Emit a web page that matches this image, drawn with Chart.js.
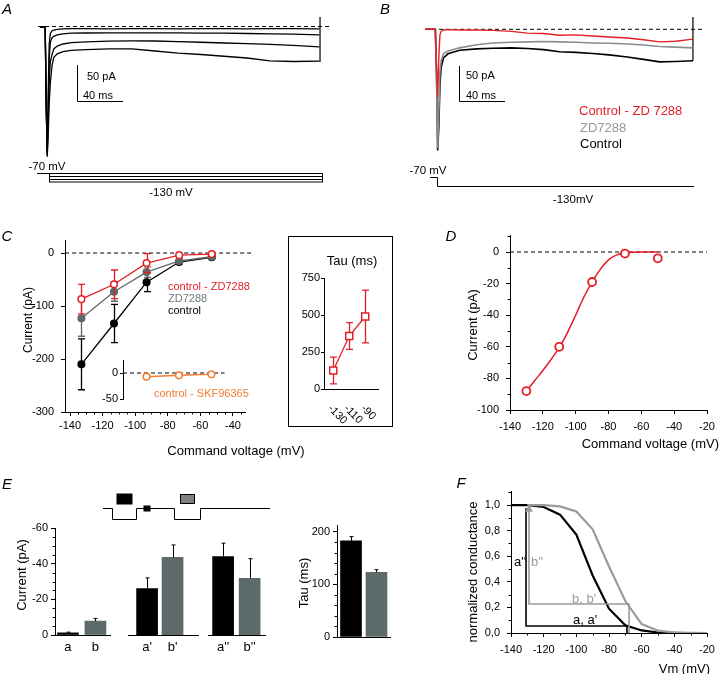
<!DOCTYPE html>
<html><head><meta charset="utf-8">
<script src="https://cdn.jsdelivr.net/npm/chart.js@4.4.1/dist/chart.umd.min.js"></script>
<style>
body{margin:0;background:#fff;}
#fig{position:relative;width:720px;height:674px;overflow:hidden;font-family:"Liberation Sans",Arial,sans-serif;}
#fig canvas{position:absolute;}
</style></head><body><div id="fig"></div>
<script>
// ---- A: current traces (time ms, current pA)
const tA = [0, 4.5, 5.5, 6.3, 7.2, 8, 9, 10.5, 12, 15, 20, 27, 40, 60, 80, 100, 120, 140, 160, 180, 200, 220, 243];
const a1 = [-1, -1, -120, -178, -90, -25, -10, -6, -5, -4, -3.5, -3, -3, -3.5, -3, -3, -3.5, -3, -3, -3.5, -3, -3, -3.5];
const a2 = [-1, -1, -120, -182, -110, -45, -22, -16, -14, -12, -10.5, -9.5, -9.3, -9, -9, -9, -9, -9.5, -9.5, -10, -10.5, -11, -12];
const a3 = [-1, -1, -120, -184, -130, -75, -50, -40, -32, -28, -25, -23, -22, -21, -20.5, -20.7, -21.5, -22.5, -23.6, -24.5, -25.5, -27, -29];
const a4 = [-1, -1, -120, -186, -150, -110, -80, -55, -44, -39, -36, -34, -33, -32, -32, -35, -38, -40, -42.5, -45, -49, -50, -49.5];

// ---- B: control, ZD7288 and difference traces
const tB = [0, 9, 10, 11, 12, 13, 14, 16, 20, 30, 45, 59, 75, 89, 103, 117, 131, 146, 160, 176, 190, 204, 218, 233];
const bDiff = [0, 0, -60, -97, -40, -8, -3, -1, -0.5, -1, -1, -1.5, -3, -5.5, -6, -8.5, -8, -9.5, -11, -12.5, -15, -18, -17, -14];
const bZD = [0, 0, -60, -170, -120, -60, -45, -35, -31, -26.5, -22, -19.5, -18.5, -18, -17.5, -18, -18.5, -19.5, -20, -21, -22.5, -24.5, -25.5, -26.5];
const bCtrl = [0, 0, -60, -173, -140, -80, -55, -41, -35, -30, -28, -27, -26.5, -27.5, -29, -32, -33, -34.5, -36.5, -39.5, -43, -46.5, -46, -45];

// ---- C: I-V
const vC = [-133, -113, -93, -73, -53];
const cCtrl = [-210, -133, -55, -17, -8];
const cCtrlErr = [48, 36, 18, 3, 2];
const cZD = [-123, -73, -36, -15, -7];
const cZDErr = [34, 18, 10, 3, 2];
const cDiff = [-87, -59, -19, -4, -2];
const cDiffErr = [28, 27, 18, 3, 2];
const vSKF = [-93, -73, -53];
const cSKF = [-7, -4.5, -2.5];
const vTau = [-130, -110, -90];
const tauC = [125, 358, 490];
const tauCErr = [90, 90, 178];

// ---- D: difference current and fit
const vD = [-130, -110, -90, -70, -50];
const dPts = [-88, -60, -19, -1, -4];
const fitV = [-130, -125, -120, -115, -110, -105, -100, -95, -90, -85, -80, -75, -70, -65, -60, -55, -50];
const fitI = [-88, -81.5, -75, -68, -60.5, -51, -40, -28.5, -19, -11, -5, -1.8, -0.5, -0.1, 0, 0, 0];

// ---- E: bars
const eLab1 = ['a', 'b'], e1 = [-1.2, -7.8], e1Err = [0.4, 1.5];
const eLab2 = ["a'", "b'"], e2 = [-26, -43.5], e2Err = [6, 7];
const eLab3 = ["a''", "b''"], e3 = [-44, -31.8], e3Err = [7.5, 11];
const eTau = [183, 123], eTauErr = [8, 5];

// ---- F: conductance curves
const fV = [-140, -130, -120, -110, -100, -90, -80, -70, -60, -50, -40, -30, -20];
const fCtrl = [1.0, 1.0, 0.985, 0.925, 0.77, 0.45, 0.19, 0.06, 0.02, 0.004, 0.001, 0, 0];
const fZD = [null, 1.0, 1.0, 0.99, 0.95, 0.81, 0.52, 0.25, 0.07, 0.018, 0.004, 0.001, 0];
const fMarkA_x = [-130.8, -130.8, -69, -69], fMarkA_y = [0.975, 0.055, 0.055, 0];
const fMarkB_x = [-129, -129, -67.7, -67.7], fMarkB_y = [0.965, 0.227, 0.227, 0];

const RED = '#e41e26', ORANGE = '#f07c32', GREYC = '#5e6a6a', GREYBAR = '#5c6a69', GREYB = '#8c8c8c', GREYF = '#9a9a9a';
const FONT = '"Liberation Sans", Arial, sans-serif';
Chart.defaults.font.family = FONT;
Chart.defaults.color = '#000';

const fig = document.getElementById('fig');
const pts = (xs, ys) => xs.map((x, i) => ({x, y: ys[i]}));

// small ticks between the labelled ones
Chart.register({
  id: 'minor',
  afterDraw(chart, args, opts) {
    const ctx = chart.ctx;
    ['x', 'y'].forEach(id => {
      const step = opts && opts[id], s = chart.scales[id];
      if (!step || !s) return;
      const major = s.options.ticks.stepSize;
      ctx.save(); ctx.strokeStyle = '#000'; ctx.lineWidth = 1; ctx.beginPath();
      const lo = Math.min(s.min, s.max), hi = Math.max(s.min, s.max);
      for (let k = Math.ceil(lo / step - 1e-6); k * step <= hi + 1e-9; k++) {
        const v = k * step, r = v / major;
        if (Math.abs(r - Math.round(r)) < 1e-6) continue;
        const p = Math.round(s.getPixelForValue(v)) + 0.5;
        if (s.isHorizontal()) { ctx.moveTo(p, s.top); ctx.lineTo(p, s.top + 2.5); }
        else { ctx.moveTo(s.right - 2.5, p); ctx.lineTo(s.right, p); }
      }
      ctx.stroke(); ctx.restore();
    });
  }
});

// error bars
function drawErr(chart, i) {
  const ds = chart.data.datasets[i], meta = chart.getDatasetMeta(i), ys = chart.scales[meta.yAxisID], ctx = chart.ctx;
  const cap = ds.capW ?? 3.5;
  ctx.save();
  ctx.strokeStyle = ds.errColor || ds.borderColor;
  ctx.lineWidth = ds.errWidth || 1.3;
  ctx.beginPath();
  meta.data.forEach((el, k) => {
    const e = ds.errors[k]; if (!e) return;
    const v = ds.data[k].y;
    const lo = ds.errOne ? v : v - e;
    const hi = ds.errOne ? v + (v < 0 ? -e : e) : v + e;
    const x = Math.round(el.x) + 0.5, p1 = ys.getPixelForValue(lo), p2 = ys.getPixelForValue(hi);
    ctx.moveTo(x, p1); ctx.lineTo(x, p2);
    if (cap) {
      ctx.moveTo(x - cap, p2); ctx.lineTo(x + cap, p2);
      if (!ds.errOne) { ctx.moveTo(x - cap, p1); ctx.lineTo(x + cap, p1); }
    }
  });
  ctx.stroke(); ctx.restore();
}
Chart.register({
  id: 'errbars',
  beforeDatasetDraw(chart, args) { const ds = chart.data.datasets[args.index]; if (ds.errors && !ds.errOne) drawErr(chart, args.index); },
  afterDatasetDraw(chart, args) { const ds = chart.data.datasets[args.index]; if (ds.errors && ds.errOne) drawErr(chart, args.index); }
});

function ax(min, max, step, o = {}) {
  return {
    type: 'linear', min, max, reverse: !!o.reverse, offset: false,
    display: o.display !== false,
    afterBuildTicks: o.at ? (s => { s.ticks = o.at.map(v => ({value: v})); }) : undefined,
    grid: {display: !o.noTicks, drawOnChartArea: false, drawTicks: !o.noTicks, tickLength: o.tl || 4, color: '#000', offset: false},
    border: {display: true, color: '#000', width: 1},
    ticks: {stepSize: step, includeBounds: false, autoSkip: false, maxRotation: 0, minRotation: 0, padding: o.pad ?? 3,
      display: o.labels !== false, color: '#000', font: {size: o.size || 11},
      callback: o.cb || (v => String(+v.toFixed(2)))}
  };
}

// area = chart area in page px [l, t, r, b]; m = margins round it [l, t, r, b]
function place(area, m, cfg) {
  const cv = document.createElement('canvas');
  const w = area[2] - area[0] + m[0] + m[2], h = area[3] - area[1] + m[1] + m[3];
  cv.width = w; cv.height = h;
  cv.style.cssText = `left:${area[0] - m[0]}px;top:${area[1] - m[1]}px;width:${w}px;height:${h}px`;
  fig.appendChild(cv);
  const sx = cfg.options.scales.x, sy = cfg.options.scales.y;
  const pad = {left: 0, top: m[1], right: m[2], bottom: 0};
  if (sy.display === false) pad.left = m[0]; else sy.afterFit = s => { s.width = m[0]; };
  if (sx.display === false) pad.bottom = m[3]; else sx.afterFit = s => { s.height = m[3]; };
  cfg.options.layout = {padding: pad};
  cfg.options.responsive = false;
  cfg.options.animation = false;
  cfg.options.devicePixelRatio = 1;
  cfg.options.plugins = Object.assign({legend: {display: false}, tooltip: {enabled: false}}, cfg.options.plugins || {});
  return new Chart(cv, cfg);
}

const line = (data, color, width, extra = {}) => Object.assign({data, borderColor: color, backgroundColor: color, borderWidth: width, pointRadius: 0, tension: 0}, extra);
const dash = (data) => ({data, borderColor: '#000', borderWidth: 1, borderDash: [4, 3], pointRadius: 0, clip: false});

// ---- A
place([34, 8, 334, 165], [0, 0, 0, 0], {
  type: 'line',
  data: {datasets: [
    line(pts(tA, a1), '#000', 1.3), line(pts(tA, a2), '#000', 1.3),
    line(pts(tA, a3), '#000', 1.3), line(pts(tA, a4), '#000', 1.3),
    line(pts([243.5, 243.5], [13.6, -50.7]), '#000', 1.2),
    dash(pts([-1.7, 252], [0, 0]))
  ]},
  options: {scales: {x: {type: 'linear', display: false, min: -5.22, max: 255.65}, y: {type: 'linear', display: false, min: -197.86, max: 26.43}}}
});

// ---- B
place([419, 8, 706, 165], [0, 0, 0, 0], {
  type: 'line',
  data: {datasets: [
    line(pts(tB, bDiff), RED, 1.4),
    line(pts(tB, bZD), GREYB, 1.6),
    line(pts(tB, bCtrl), '#000', 1.6),
    line(pts([233, 233], [17.6, -45]), '#000', 1.2),
    dash(pts([0, 241.7], [0, 0]))
  ]},
  options: {scales: {x: {type: 'linear', display: false, min: -5.22, max: 244.35}, y: {type: 'linear', display: false, min: -193.86, max: 30.43}}}
});

// ---- C main
const ivPt = (color, fill) => ({pointRadius: 3.3, pointBorderWidth: 1.5, pointBackgroundColor: fill, pointBorderColor: color});
place([65, 240, 245, 412], [65, 20, 20, 30], {
  type: 'line',
  data: {datasets: [
    line(pts(vC, cDiff), RED, 1.3, Object.assign(ivPt(RED, '#fff'), {errors: cDiffErr})),
    line(pts(vC, cZD), GREYC, 1.3, Object.assign(ivPt(GREYC, GREYC), {errors: cZDErr})),
    line(pts(vC, cCtrl), '#000', 1.3, Object.assign(ivPt('#000', '#000'), {errors: cCtrlErr})),
    dash(pts([-143, -28], [0, 0]))
  ]},
  options: {
    scales: {x: ax(-143.07, -32.6, 20), y: ax(-300, 24.6, 100, {pad: 7})},
    plugins: {minor: {x: 5}}
  }
});

// ---- C inset SKF96365
place([123, 360, 230, 399], [30, 12, 5, 10], {
  type: 'line',
  data: {datasets: [
    line(pts(vSKF, cSKF), ORANGE, 1.5, ivPt(ORANGE, '#fff')),
    dash(pts([-107.5, -44.9], [0, 0]))
  ]},
  options: {scales: {x: {type: 'linear', display: false, min: -107.5, max: -41.85}, y: ax(-50, 25, 50, {tl: 3, pad: 2})}}
});

// ---- C inset Tau
place([324, 278, 378, 389], [30, 15, 10, 10], {
  type: 'line',
  data: {datasets: [
    line(pts(vTau, tauC), RED, 1.3, {pointStyle: 'rect', pointRadius: 5, pointBorderWidth: 1.5, pointBackgroundColor: '#fff', pointBorderColor: RED, errors: tauCErr})
  ]},
  options: {scales: {x: ax(-141.6, -74, 20, {noTicks: true, labels: false}), y: ax(0, 750, 250, {tl: 3, pad: 1})}}
});

// ---- D
place([510, 235, 707, 410], [50, 20, 20, 30], {
  type: 'line',
  data: {datasets: [
    line(pts(vD, dPts), RED, 0, {showLine: false, pointRadius: 4, pointBorderWidth: 1.8, pointBackgroundColor: '#fff', pointBorderColor: RED}),
    line(pts(fitV, fitI), RED, 1.5, {cubicInterpolationMode: 'monotone'}),
    dash(pts([-140, -20], [0, 0]))
  ]},
  options: {
    scales: {x: ax(-140, -20, 20, {pad: 6}), y: ax(-100, 10.76, 20, {pad: 7})},
    plugins: {minor: {y: 10}}
  }
});

// ---- E bars
const barSet = (vals, errs) => ({type: 'bar', data: pts([0, 1], vals), backgroundColor: ['#000', GREYBAR], borderWidth: 0, barThickness: 21,
  errors: errs, errOne: true, errColor: '#000', errWidth: 1, capW: 2});
function eGroup(area, m, vals, errs, labels, xr, showY) {
  const y = ax(-60, 0, 20, {reverse: true, pad: 3});
  if (!showY) y.display = false;
  place(area, m, {
    type: 'bar',
    data: {datasets: [barSet(vals, errs)]},
    options: {
      scales: {x: ax(xr[0], xr[1], 1, {noTicks: true, at: [0, 1], size: 13, pad: 5, labels: !!labels, cb: v => labels ? labels[Math.round(v)] : ''}), y},
      plugins: {minor: showY ? {y: 5} : {}}
    }
  });
}
eGroup([55, 528, 110, 635], [50, 20, 5, 30], e1, e1Err, eLab1, [-0.47, 1.53], true);
eGroup([128, 528, 198, 635], [5, 20, 5, 30], e2, e2Err, eLab2, [-0.75, 2.0], false);
eGroup([208, 528, 265, 635], [5, 20, 5, 30], e3, e3Err, eLab3, [-0.57, 1.58], false);

place([337, 525, 390, 637], [40, 20, 5, 10], {
  type: 'bar',
  data: {datasets: [barSet(eTau, eTauErr)]},
  options: {
    scales: {x: ax(-0.55, 1.53, 1, {noTicks: true, labels: false}), y: ax(0, 213, 100, {pad: 3})},
    plugins: {minor: {y: 20}}
  }
});

// ---- F
place([511, 491, 707, 633], [50, 20, 20, 30], {
  type: 'line',
  data: {datasets: [
    line(pts([-129], [0.965]), GREYF, 0, {showLine: false, pointStyle: 'triangle', pointRadius: 4.6, pointBorderWidth: 0, pointBackgroundColor: GREYF}),
    line(pts(fMarkB_x, fMarkB_y), GREYF, 1.6),
    line(pts(fMarkA_x, fMarkA_y), '#000', 1.6),
    line(pts(fV, fZD), GREYF, 2.2),
    line(pts(fV, fCtrl), '#000', 2.2)
  ]},
  options: {
    scales: {x: ax(-140, -20, 20, {pad: 6}), y: ax(0, 1.11, 0.2, {pad: 7, cb: v => v.toFixed(1).replace('.', ',')})},
    plugins: {minor: {x: 10, y: 0.1}}
  }
});

// ---- schematic drawings (scale bars, voltage steps, protocol)
fig.insertAdjacentHTML('beforeend', `<svg width="720" height="674" style="position:absolute;left:0;top:0" fill="none" stroke="#000" stroke-width="1">
<polyline points="77.5,65 77.5,101.5 123,101.5"/>
<line x1="37" y1="173.5" x2="49" y2="173.5"/>
<rect x="49.5" y="173.5" width="273" height="8.5"/>
<line x1="49.5" y1="176.5" x2="322.5" y2="176.5"/><line x1="49.5" y1="179.5" x2="322.5" y2="179.5"/>
<polyline points="459.5,66 459.5,101.5 505,101.5"/>
<polyline points="430,177.5 437.5,177.5 437.5,186.5 694,186.5"/>
<rect x="288.5" y="236.5" width="104" height="190"/>
<polyline points="103,508.5 112.5,508.5 112.5,519.5 136.5,519.5 136.5,508.5 174.5,508.5 174.5,519.5 200.5,519.5 200.5,508.5 270,508.5"/>
<rect x="117" y="494" width="15" height="10" fill="#000"/>
<rect x="144" y="506" width="6" height="5" fill="#000"/>
<rect x="180.5" y="494.5" width="14" height="9" fill="#808080"/>
</svg>`);

// ---- text
function txt(s, x, y, o = {}) {
  const d = document.createElement('div');
  d.textContent = s;
  const size = o.size || 11;
  const tx = o.align === 'c' ? '-50%' : o.align === 'r' ? '-100%' : '0';
  let tr = `translate(${tx},-50%)`;
  if (o.rot) tr += ` rotate(${o.rot}deg)`;
  d.style.cssText = `position:absolute;left:${x}px;top:${y}px;font-size:${size}px;line-height:${size}px;white-space:nowrap;color:${o.color || '#000'};` +
    `font-style:${o.it ? 'italic' : 'normal'};transform:${tr};transform-origin:${o.origin || '50% 50%'};`;
  fig.appendChild(d);
}
[['A', 7, 8], ['B', 385, 8], ['C', 7, 235], ['D', 451, 235], ['E', 7, 483], ['F', 461, 482]]
  .forEach(([s, x, y]) => txt(s, x, y, {size: 15, it: true, align: 'c'}));

txt('50 pA', 87, 76); txt('40 ms', 83, 95);
txt('-70 mV', 47, 167, {align: 'c', size: 11.5}); txt('-130 mV', 171, 193, {align: 'c', size: 11.5});
txt('50 pA', 466, 75); txt('40 ms', 466, 95);
txt('-70 mV', 428, 171, {align: 'c', size: 11.5}); txt('-130mV', 573, 200, {align: 'c', size: 11.5});
txt('Control - ZD 7288', 579, 110, {size: 13, color: RED});
txt('ZD7288', 580, 127, {size: 13, color: '#999'});
txt('Control', 580, 143, {size: 13});

txt('control - ZD7288', 168, 286, {color: RED});
txt('ZD7288', 168, 298, {color: '#6e7878'});
txt('control', 168, 310);
txt('control - SKF96365', 154, 393, {color: ORANGE});
txt('Current (pA)', 28, 320, {size: 12, align: 'c', rot: -90});
txt('Command voltage (mV)', 236, 450, {size: 13, align: 'c'});
txt('Tau (ms)', 352, 260, {size: 13, align: 'c'});
[['-130', 330], ['-110', 346], ['-90', 363]].forEach(([s, x]) => {
  const d = document.createElement('div');
  d.textContent = s;
  d.style.cssText = `position:absolute;left:${x}px;top:401px;font-size:11px;line-height:11px;white-space:nowrap;transform-origin:0 50%;transform:rotate(45deg);`;
  fig.appendChild(d);
});

txt('Current (pA)', 472, 325, {size: 13, align: 'c', rot: -90});
txt('Command voltage (mV)', 719, 443, {size: 13, align: 'r'});

txt('Current (pA)', 21, 575, {size: 13, align: 'c', rot: -90});
txt('Tau (ms)', 303, 583, {size: 13, align: 'c', rot: -90});

txt('normalized conductance', 472, 572, {size: 13, align: 'c', rot: -90});
txt('Vm (mV)', 710, 668, {size: 13, align: 'r'});
txt("a''", 514, 561, {size: 13});
txt("b''", 531, 561, {size: 13, color: GREYF});
txt("b, b'", 572, 598, {size: 13, color: GREYF});
txt("a, a'", 573, 619, {size: 13});
</script></body></html>
